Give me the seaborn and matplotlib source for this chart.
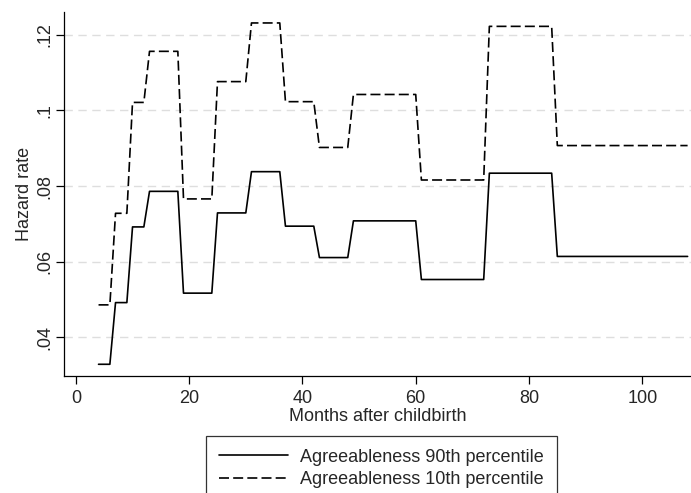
import numpy as np
import pandas as pd
import matplotlib
matplotlib.use("Agg")
import matplotlib.pyplot as plt
import seaborn as sns

sns.set_theme(style="white")
plt.rcParams['font.family'] = ['Liberation Sans', 'DejaVu Sans']

# vertices of the two hazard curves (month, rate)
months = [4, 6, 7, 9, 10, 12, 13, 18, 19, 24, 25, 30, 31, 36, 37,
          42, 43, 48, 49, 60, 61, 72, 73, 84, 85, 108]
hi_levels = [0.0329, 0.0492, 0.0692, 0.0786, 0.0517, 0.0729, 0.0838,
             0.0694, 0.0611, 0.0708, 0.0553, 0.0834, 0.0614]
lo_levels = [0.0486, 0.0728, 0.1021, 0.1156, 0.0766, 0.1076, 0.1231,
             0.1023, 0.0902, 0.1042, 0.0816, 0.1222, 0.0907]
labels = ["Agreeableness 90th percentile", "Agreeableness 10th percentile"]

yticks = [0.04, 0.06, 0.08, 0.10, 0.12]
ytick_labels = [".04", ".06", ".08", ".1", ".12"]
xticks = [0, 20, 40, 60, 80, 100]

FS = 13

# each level holds between two consecutive vertices
hi_vals = np.repeat(hi_levels, 2)
lo_vals = np.repeat(lo_levels, 2)
df = pd.DataFrame({
    "month": months * 2,
    "rate": np.concatenate([hi_vals, lo_vals]),
    "group": [labels[0]] * len(months) + [labels[1]] * len(months),
})

fig = plt.figure(figsize=(6.91, 4.93), dpi=100)
ax = fig.add_axes([0.0926, 0.2373, 0.9074, 0.7384])

for y in yticks:
    ax.axhline(y, color="#dedede", lw=1.0, dashes=(6, 4), zorder=0)

sns.lineplot(data=df, x="month", y="rate", style="group", hue="group",
             palette=["black", "black"], dashes={labels[0]: "", labels[1]: (6, 2.5)},
             lw=1.2, sort=False, estimator=None, ax=ax, legend=False)

ax.set_xlim(-2.1, 108.6)
ax.set_ylim(0.0298, 0.126)
ax.set_xticks(xticks)
ax.set_yticks(yticks)
ax.set_yticklabels(ytick_labels, rotation=90, va="center")
ax.tick_params(axis="both", direction="out", length=6, width=0.9, color="black",
               labelsize=FS, bottom=True, left=True)
ax.tick_params(axis="x", pad=4)
ax.tick_params(axis="y", pad=2)
for s in ["top", "right"]:
    ax.spines[s].set_visible(False)
for s in ["left", "bottom"]:
    ax.spines[s].set_color("black")
    ax.spines[s].set_linewidth(0.9)
ax.set_xlabel("Months after childbirth", fontsize=FS, labelpad=1)
ax.set_ylabel("Hazard rate", fontsize=FS, labelpad=2)

handles = [plt.Line2D([], [], color="black", lw=1.2),
           plt.Line2D([], [], color="black", lw=1.2, dashes=(6, 2.5))]
leg = fig.legend(handles, labels, loc="upper center", bbox_to_anchor=(0.552, 0.1156),
                 fontsize=FS, frameon=True, fancybox=False, handlelength=3.8,
                 handletextpad=0.7, labelspacing=0.3, borderpad=0.7,
                 borderaxespad=0)
leg.get_frame().set_edgecolor("black")
leg.get_frame().set_linewidth(0.9)

fig.savefig("out.png", dpi=100)
